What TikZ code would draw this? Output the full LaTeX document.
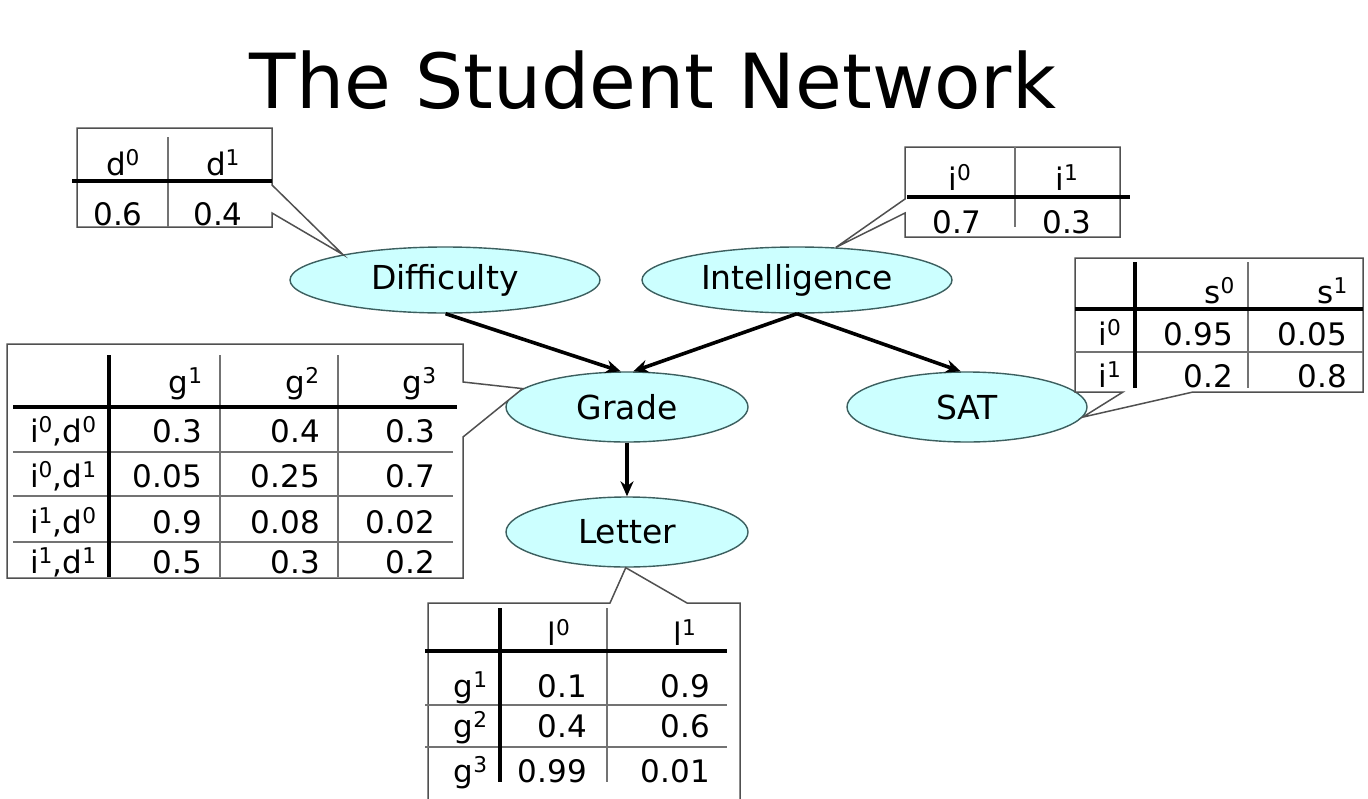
\documentclass[tikz,border=0pt]{standalone}
\usepackage{fontspec}
\setmainfont{DejaVu Sans}
\usetikzlibrary{arrows.meta,shapes.geometric}
\definecolor{nodefill}{RGB}{204,255,255}
\definecolor{nodeline}{RGB}{60,95,95}
\definecolor{thingray}{RGB}{115,115,115}
\definecolor{boxline}{RGB}{80,80,80}
\newcommand{\sps}[1]{\textsuperscript{#1}}
\begin{document}
\begin{tikzpicture}[x=1pt,y=-1pt,
  var/.style={ellipse, draw=nodeline, line width=1.4pt, fill=nodefill, font=\fontsize{33}{38}\selectfont, inner sep=0pt},
  edge/.style={line width=3.6pt, -{Stealth[length=15pt,width=13pt]}},
  callout/.style={draw=boxline, line width=1.5pt, fill=white, line join=miter},
  heavyrule/.style={line width=3.8pt},
  thinrule/.style={draw=thingray, line width=1.3pt},
  tt/.style={font=\fontsize{31}{36}\selectfont, inner sep=0pt},
]
\useasboundingbox (0,0) rectangle (1368,798);
\fill[white] (0,0) rectangle (1368,798);

% title
\node[anchor=base, inner sep=0pt, font=\fontsize{76}{88}\selectfont] (title) at (653,108) {The Student Network};

% variables
\node[var, minimum width=310pt, minimum height=66pt] (diff) at (445,280) {Difficulty};
\node[var, minimum width=310pt, minimum height=66pt] (intel) at (797,280) {Intelligence};
\node[var, minimum width=242pt, minimum height=70pt] (grade) at (627,407) {Grade};
\node[var, minimum width=240pt, minimum height=70pt] (sat) at (967,407) {SAT};
\node[var, minimum width=242pt, minimum height=70pt] (letter) at (627,532) {Letter};

% edges
\draw[edge] (diff.-89) -- (grade.100);
\draw[edge] (intel.-90) -- (grade.80);
\draw[edge] (intel.-90) -- (sat.100);
\draw[edge] (grade.south) -- (letter.north);

% ---- Difficulty table
\draw[callout] (77,128) -- (272,128) -- (272,185) -- (diff.166) -- (272,213) -- (272,227) -- (77,227) -- cycle;
\draw[thinrule] (168,137) -- (168,227);
\draw[heavyrule] (72,181) -- (272,181);
\node[tt, anchor=base] (d0) at (123,175) {d\sps{0}};
\node[tt, anchor=base] (d1) at (223,175) {d\sps{1}};
\node[tt, anchor=base] (dv0) at (118,225) {0.6};
\node[tt, anchor=base] (dv1) at (218,225) {0.4};

% ---- Intelligence table
\draw[callout] (905,147) -- (1120,147) -- (1120,237) -- (905,237) -- (905,213) -- (intel.40) -- (905,199) -- cycle;
\draw[thinrule] (1015,147) -- (1015,227);
\draw[heavyrule] (907,197) -- (1130,197);
\node[tt, anchor=base] (i0) at (960,190) {i\sps{0}};
\node[tt, anchor=base] (i1) at (1067,190) {i\sps{1}};
\node[tt, anchor=base] (iv0) at (957,233) {0.7};
\node[tt, anchor=base] (iv1) at (1067,233) {0.3};

% ---- SAT table
\draw[callout] (1075,258) -- (1363,258) -- (1363,392) -- (1193,392) -- (sat.-5) -- (1123,392) -- (1075,392) -- cycle;
\draw[thinrule] (1248,262) -- (1248,388);
\draw[thinrule] (1075,352) -- (1363,352);
\draw[heavyrule] (1135,262) -- (1135,388);
\draw[heavyrule] (1075,309) -- (1363,309);
\node[tt, anchor=base east] (s0) at (1235,303) {s\sps{0}};
\node[tt, anchor=base east] (s1) at (1348,303) {s\sps{1}};
\node[tt, anchor=base] (si0) at (1110,345) {i\sps{0}};
\node[tt, anchor=base east] (s00) at (1233,345) {0.95};
\node[tt, anchor=base east] (s01) at (1347,345) {0.05};
\node[tt, anchor=base] (si1) at (1110,387) {i\sps{1}};
\node[tt, anchor=base east] (s10) at (1233,387) {0.2};
\node[tt, anchor=base east] (s11) at (1347,387) {0.8};

% ---- Grade table
\draw[callout] (7,344) -- (463,344) -- (463,382) -- (grade.170) -- (463,437) -- (463,578) -- (7,578) -- cycle;
\draw[thinrule] (220,355) -- (220,577);
\draw[thinrule] (338,355) -- (338,577);
\draw[thinrule] (13,452) -- (453,452);
\draw[thinrule] (13,496) -- (453,496);
\draw[thinrule] (13,542) -- (453,542);
\draw[heavyrule] (109,355) -- (109,577);
\draw[heavyrule] (13,407) -- (457,407);
\node[tt, anchor=base east] (g1) at (203,393) {g\sps{1}};
\node[tt, anchor=base east] (g2) at (320,393) {g\sps{2}};
\node[tt, anchor=base east] (g3) at (437,393) {g\sps{3}};
\node[tt, anchor=base east] (r1) at (97,442) {i\sps{0},d\sps{0}};
\node[tt, anchor=base east] (r2) at (97,487) {i\sps{0},d\sps{1}};
\node[tt, anchor=base east] (r3) at (97,533) {i\sps{1},d\sps{0}};
\node[tt, anchor=base east] (r4) at (97,573) {i\sps{1},d\sps{1}};
\node[tt, anchor=base east] (v11) at (202,442) {0.3};
\node[tt, anchor=base east] (v12) at (320,442) {0.4};
\node[tt, anchor=base east] (v13) at (435,442) {0.3};
\node[tt, anchor=base east] (v21) at (202,487) {0.05};
\node[tt, anchor=base east] (v22) at (320,487) {0.25};
\node[tt, anchor=base east] (v23) at (435,487) {0.7};
\node[tt, anchor=base east] (v31) at (202,533) {0.9};
\node[tt, anchor=base east] (v32) at (320,533) {0.08};
\node[tt, anchor=base east] (v33) at (435,533) {0.02};
\node[tt, anchor=base east] (v41) at (202,573) {0.5};
\node[tt, anchor=base east] (v42) at (320,573) {0.3};
\node[tt, anchor=base east] (v43) at (435,573) {0.2};

% ---- Letter table
\draw[callout] (428,603) -- (610,603) -- (letter.-92) -- (687,603) -- (740,603) -- (740,805) -- (428,805) -- cycle;
\draw[thinrule] (607,608) -- (607,782);
\draw[thinrule] (425,705) -- (727,705);
\draw[thinrule] (425,747) -- (727,747);
\draw[heavyrule] (500,608) -- (500,782);
\draw[heavyrule] (425,651) -- (727,651);
\node[tt, anchor=base] (l0) at (559,645) {l\sps{0}};
\node[tt, anchor=base] (l1) at (685,645) {l\sps{1}};
\node[tt, anchor=base east] (lg1) at (488,697) {g\sps{1}};
\node[tt, anchor=base east] (lg2) at (488,737) {g\sps{2}};
\node[tt, anchor=base east] (lg3) at (488,782) {g\sps{3}};
\node[tt, anchor=base east] (lv11) at (587,697) {0.1};
\node[tt, anchor=base east] (lv12) at (710,697) {0.9};
\node[tt, anchor=base east] (lv21) at (587,737) {0.4};
\node[tt, anchor=base east] (lv22) at (710,737) {0.6};
\node[tt, anchor=base east] (lv31) at (587,782) {0.99};
\node[tt, anchor=base east] (lv32) at (710,782) {0.01};
\end{tikzpicture}
\end{document}
